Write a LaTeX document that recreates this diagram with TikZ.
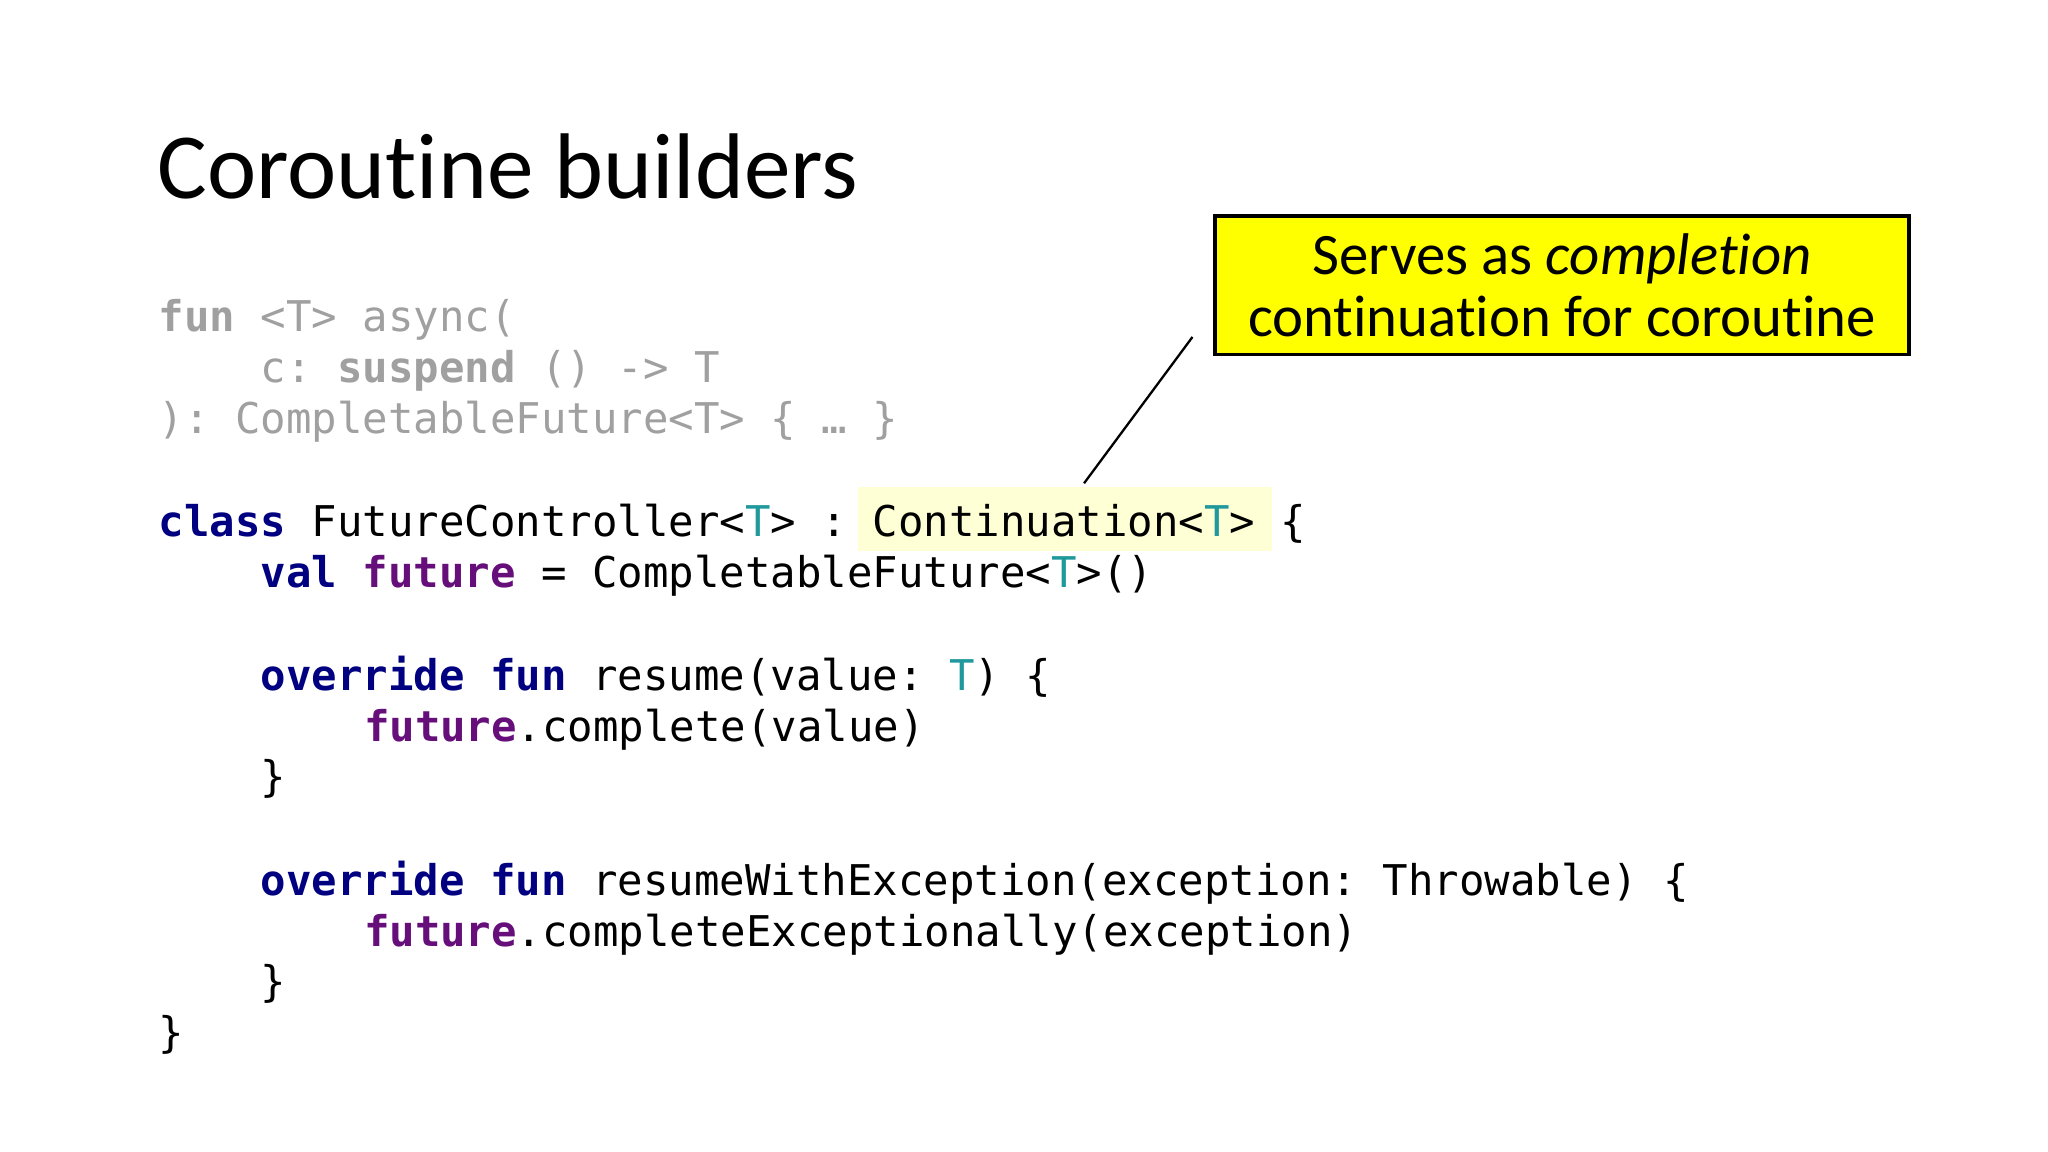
\documentclass[tikz,border=0pt]{standalone}
\usepackage{fontspec}
\setmainfont{Carlito}[Ligatures=NoCommon]
\setmonofont{DejaVu Sans Mono}
\definecolor{kwc}{HTML}{000080}
\definecolor{fuc}{HTML}{660E7A}
\definecolor{tpc}{HTML}{20999D}
\definecolor{grc}{HTML}{A0A0A0}
\definecolor{hlc}{HTML}{FFFFD6}
\definecolor{boxc}{HTML}{FFFF00}
\newcommand{\mykw}[1]{\textbf{\color{kwc}#1}}
\newcommand{\myfu}[1]{\textbf{\color{fuc}#1}}
\newcommand{\mytp}[1]{{\color{tpc}#1}}
\tikzset{code/.style={anchor=base west,inner sep=0pt,font=\ttfamily\fontsize{9.22}{11}\selectfont},
 gcode/.style={code,text=grc}}
\begin{document}
\begin{tikzpicture}[x=0.01cm,y=-0.01cm]
\useasboundingbox[fill=white] (0,0) rectangle (1568,882);
\node[anchor=base west,inner sep=0pt,font=\fontsize{20.3}{24}\selectfont] (title) at (120,152) {Coroutine builders};
\node[gcode] (l1) at (121,254) {\textbf{fun} <T> async(};
\node[gcode] (l2) at (199,293) {c: \textbf{suspend} () -> T};
\node[gcode] (l3) at (121,332) {): CompletableFuture<T> \{ … \}};
\node[fill=hlc,inner sep=0pt,minimum width=3.17cm,minimum height=0.49cm,anchor=north west] (hl) at (656,372) {};
\node[code] (l4) at (121,411) {\mykw{class} FutureController<\mytp{T}> : Continuation<\mytp{T}> \{};
\node[code] (l5) at (199,450) {\mykw{val} \myfu{future} = CompletableFuture<\mytp{T}>()};
\node[code] (l6) at (199,529) {\mykw{override} \mykw{fun} resume(value: \mytp{T}) \{};
\node[code] (l7) at (278,568) {\myfu{future}.complete(value)};
\node[code] (l8) at (199,606) {\}};
\node[code] (l9) at (199,686) {\mykw{override} \mykw{fun} resumeWithException(exception: Throwable) \{};
\node[code] (l10) at (278,725) {\myfu{future}.completeExceptionally(exception)};
\node[code] (l11) at (199,763) {\}};
\node[code] (l12) at (121,802) {\}};
\node[draw=black,fill=boxc,line width=0.8pt,minimum width=5.31cm,minimum height=1.06cm,inner sep=0pt,anchor=north west,align=center,font=\fontsize{12.8}{13.6}\selectfont] (cb) at (929,164) {Serves as \textit{completion}\\continuation for coroutine};
\coordinate (c1) at (913,258);
\coordinate (c2) at (830,370);
\draw[line width=0.5pt] (c1) -- (c2);
\end{tikzpicture}
\end{document}
